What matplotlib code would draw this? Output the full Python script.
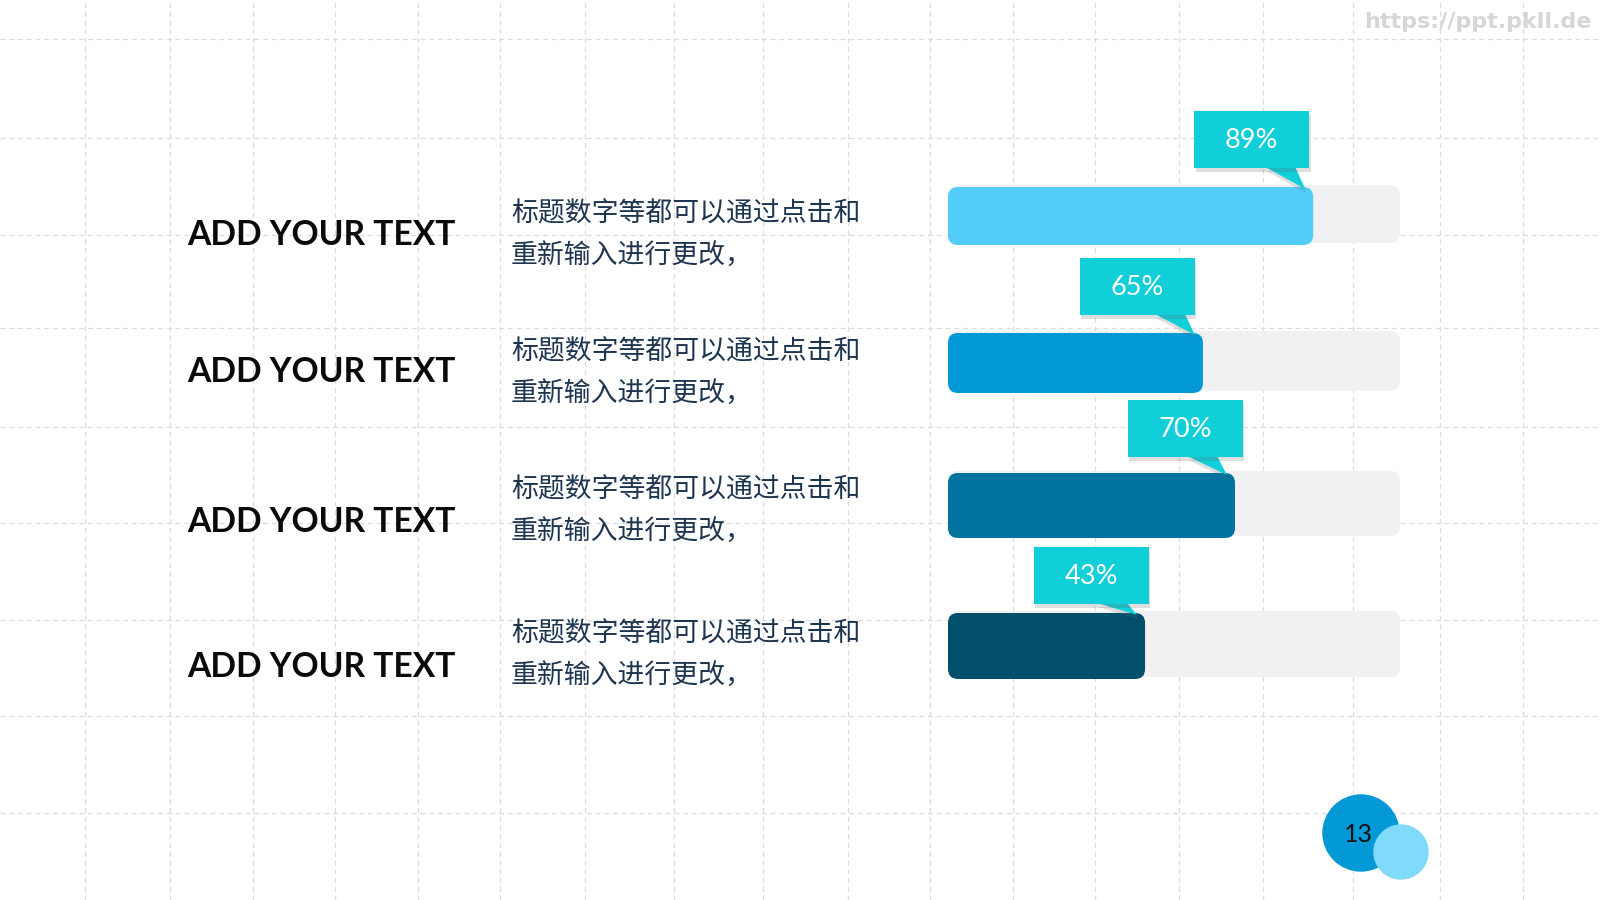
import matplotlib.pyplot as plt
import matplotlib.patheffects as pe
from matplotlib.patches import FancyBboxPatch, Rectangle, Polygon, Circle

plt.rcParams['font.family'] = ['Lato', 'Noto Sans CJK SC', 'DejaVu Sans']

# --- data ---
titles = ['ADD YOUR TEXT', 'ADD YOUR TEXT', 'ADD YOUR TEXT', 'ADD YOUR TEXT']
desc_line1 = ['标题数字等都可以通过点击和'] * 4
desc_line2 = ['重新输入进行更改，'] * 4
pct_labels = [89, 65, 70, 43]
fill_shown = [80.8, 56.4, 63.5, 43.6]   # bar length as drawn, % of the grey track
page_no = '13'
watermark = 'https://ppt.pkll.de'

# --- styling / layout (pixels on a 1600x900 canvas) ---
bar_colors = ['#52CDF7', '#0399D6', '#00739E', '#024F6B']
track_color = '#F1F1F3'
callout_color = '#10CFD8'
bar_top = [187, 333, 473, 613]
bar_h = [58, 60, 65, 66]
callout_gap = [19, 18, 16, 9]        # space between callout box and bar top
callout_shift = [-4, -8, 8, 4]       # box right edge relative to bar end
title_y = [235, 372, 522, 667]
desc_y = [214, 352, 490, 634]
grid_x = [85, 170, 253, 335, 418, 500, 585, 674, 763, 848, 930, 1013,
          1095, 1179, 1263, 1353, 1440, 1523]
grid_y = [39, 138, 235, 328, 427, 523, 620, 716, 813]
track_x0, track_x1 = 948, 1400

fig = plt.figure(figsize=(16, 9), dpi=100)
fig.patch.set_facecolor('white')

ax = fig.add_axes([0, 0, 1, 1])
ax.set_xlim(0, 1600)
ax.set_ylim(900, 0)
ax.axis('off')

# dashed background grid
for gx in grid_x:
    ax.axvline(gx, color='#DCDCDC', lw=0.9, ls=(0, (4, 3)), zorder=0)
for gy in grid_y:
    ax.axhline(gy, color='#DCDCDC', lw=0.9, ls=(0, (4, 3)), zorder=0)

# left text columns
cjk = ['Noto Sans CJK SC', 'DejaVu Sans']
for i in range(4):
    ax.text(187, title_y[i], titles[i], fontsize=24.2, fontweight='bold',
            color='#0A0A0A', ha='left', va='center', zorder=3)
    ax.text(511, desc_y[i], desc_line1[i], fontsize=19.35, color='#1E3550',
            ha='left', va='center', family=cjk, zorder=3)
    ax.text(511, desc_y[i] + 42, desc_line2[i], fontsize=19.35, color='#1E3550',
            ha='left', va='center', family=cjk, zorder=3)

# watermark
ax.text(1591, 22, watermark, fontsize=16, fontweight='bold', color='#D6D6D6',
        ha='right', va='center', family=['DejaVu Sans'], zorder=3)

# page number badge
ax.add_patch(Circle((1361, 833), 38, color='#0399D6', zorder=3))
ax.add_patch(Circle((1401, 852), 27, color='#80DAFA', zorder=4))
ax.text(1358, 834, page_no, fontsize=18, color='#111111', ha='center',
        va='center', zorder=5)

# --- bar axes: x in percent of the track, y in pixels ---
axb = fig.add_axes([track_x0 / 1600, 0, (track_x1 - track_x0) / 1600, 1])
axb.set_xlim(0, 100)
axb.set_ylim(900, 0)
axb.axis('off')
axb.patch.set_alpha(0)

ux = 100 / (track_x1 - track_x0)   # percent units per pixel
asp = 1 / ux
rad = 10 * ux
shadow = [pe.withSimplePatchShadow(offset=(1, -3), shadow_rgbFace='#6A6A6A', alpha=0.22)]

for i in range(4):
    top, h = bar_top[i], bar_h[i]
    axb.add_patch(FancyBboxPatch((0, top - 2), 100, h, boxstyle=f'round,pad=0,rounding_size={rad}',
                                 mutation_aspect=asp, fc=track_color, ec='none', zorder=2))
    axb.add_patch(FancyBboxPatch((0, top), fill_shown[i], h, boxstyle=f'round,pad=0,rounding_size={rad}',
                                 mutation_aspect=asp, fc=bar_colors[i], ec='none', zorder=3))

    # callout box with a pointer down to the end of the bar
    end = fill_shown[i]
    bw, bh = 115 * ux, 57
    bx = end + callout_shift[i] * ux - bw
    by = top - callout_gap[i] - bh
    tip_x = end - 8 * ux
    tail = Polygon([(tip_x - 40 * ux, by + bh - 1), (tip_x - 10 * ux, by + bh - 1), (tip_x, top + 2)],
                   closed=True, fc=callout_color, ec='none', zorder=4, path_effects=shadow)
    box = Rectangle((bx, by), bw, bh, fc=callout_color, ec='none', zorder=5, path_effects=shadow)
    axb.add_patch(tail)
    axb.add_patch(box)
    axb.text(bx + bw / 2, by + bh / 2 + 1, f'{pct_labels[i]}%', fontsize=19.5, color='white',
             ha='center', va='center', zorder=6)

fig.savefig('out.png', dpi=100)
